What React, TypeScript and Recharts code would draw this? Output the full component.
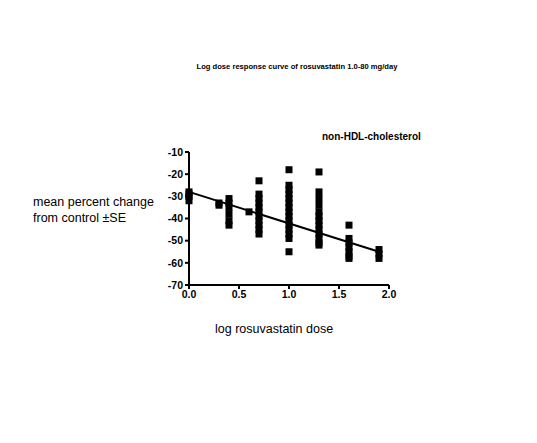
import React from 'react';
import { ScatterChart, Scatter, XAxis, YAxis } from 'recharts';

// log dose groups and the % change values
const dose00 = [-28, -29, -30, -32];
const dose03 = [-33, -34];
const dose04 = [-31, -33, -35, -38, -41, -43];
const dose06 = [-37];
const dose07 = [-23, -29, -31, -33, -35, -37, -39, -41, -43, -45, -47];
const dose10 = [-18, -25, -27, -29, -31, -33, -35, -37, -39, -41, -43, -45, -47, -49, -55];
const dose13 = [-19, -28, -31, -34, -37, -39, -41, -43, -45, -47, -49, -51, -52];
const dose16 = [-43, -49, -51, -53, -55, -57, -58];
const dose19 = [-54, -56, -58];

const groups: [number, number[]][] = [
  [0, dose00], [0.3, dose03], [0.4, dose04], [0.6, dose06], [0.7, dose07],
  [1.0, dose10], [1.3, dose13], [1.6, dose16], [1.9, dose19],
];

// regression line end points
const fitX = [0, 1.9];
const fitY = [-28, -55];

const xTicks = [0, 0.5, 1.0, 1.5, 2.0];
const yTicks = [-10, -20, -30, -40, -50, -60, -70];

const points = groups.flatMap(([x, ys]) => ys.map(y => ({ x, y })));
const fit = fitX.map((x, i) => ({ x, y: fitY[i] }));

const Square = (props: any) => {
  const { cx, cy } = props;
  if (cx == null || cy == null) return <g />;
  return <rect x={cx - 3.5} y={cy - 3.5} width={7} height={7} fill="#000" />;
};

const tickFont = { fontFamily: 'Arial, "Liberation Sans", sans-serif', fontWeight: 'bold', fontSize: 10.5, fill: '#000' };

export default function App() {
  return (
    <div style={{ position: 'absolute', left: 0, top: 0, width: 537, height: 443, background: '#fff', fontFamily: 'Arial, "Liberation Sans", sans-serif' }}>
      <div style={{ position: 'absolute', left: 0, top: 62, width: 594, textAlign: 'center', fontSize: 7.6, fontWeight: 'bold' }}>
        Log dose response curve of rosuvastatin 1.0-80 mg/day
      </div>
      <div style={{ position: 'absolute', left: 322, top: 131, fontSize: 10, fontWeight: 'bold' }}>
        non-HDL-cholesterol
      </div>
      <div style={{ position: 'absolute', left: 33, top: 194, fontSize: 12.5, lineHeight: '16px' }}>
        mean percent change<br />from control ±SE
      </div>
      <div style={{ position: 'absolute', left: 215, top: 322, fontSize: 12.5 }}>
        log rosuvastatin dose
      </div>
      <ScatterChart width={537} height={443} margin={{ top: 152, right: 148, bottom: 128, left: 0 }} style={{ position: 'absolute', left: 0, top: 0 }}>
        <XAxis
          type="number"
          dataKey="x"
          domain={[0, 2]}
          ticks={xTicks}
          tickFormatter={(v: number) => v.toFixed(1)}
          stroke="#000"
          strokeWidth={2}
          tickSize={4}
          height={30}
          tick={tickFont}
        />
        <YAxis
          type="number"
          dataKey="y"
          domain={[-70, -10]}
          ticks={yTicks}
          stroke="#000"
          strokeWidth={2}
          tickSize={4}
          width={189}
          tick={tickFont}
        />
        <Scatter data={points} shape={Square} isAnimationActive={false} />
        <Scatter data={fit} line={{ stroke: '#000', strokeWidth: 2 }} shape={() => <g />} isAnimationActive={false} />
      </ScatterChart>
    </div>
  );
}
